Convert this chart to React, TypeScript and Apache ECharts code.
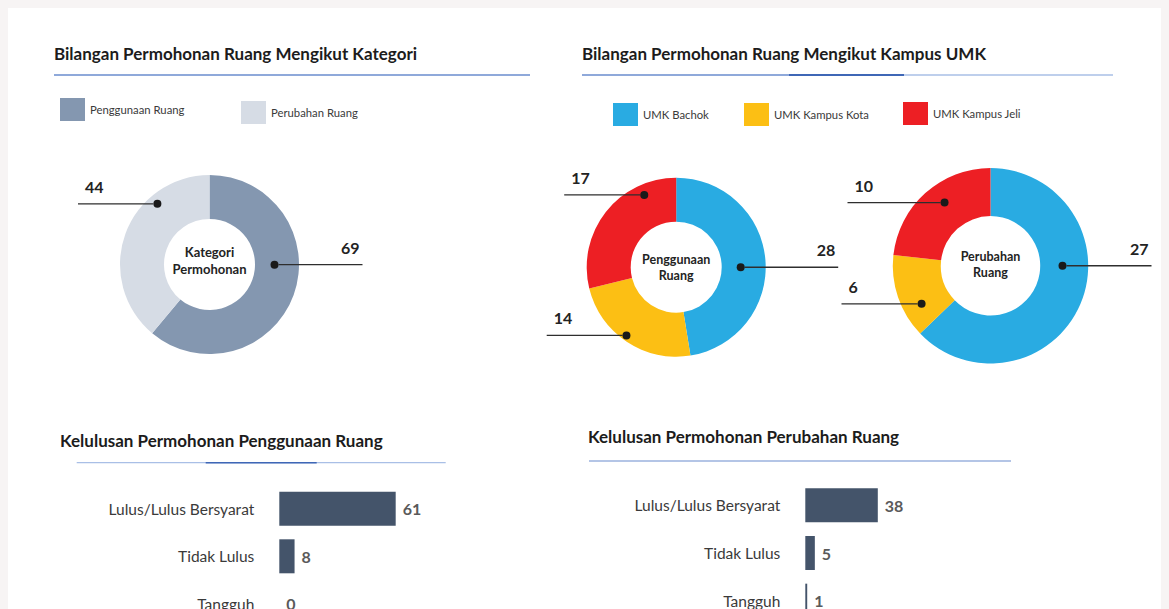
import React, { useEffect, useRef } from 'react';
import * as echarts from 'echarts';

// ---------- data ----------
const kategoriNames = ['Penggunaan Ruang', 'Perubahan Ruang'];
const kategoriValues = [69, 44];
const kampusNames = ['UMK Bachok', 'UMK Kampus Kota', 'UMK Kampus Jeli'];
const penggunaanKampusValues = [28, 14, 17];
const perubahanKampusValues = [27, 6, 10];
const statusCategories = ['Lulus/Lulus Bersyarat', 'Tidak Lulus', 'Tangguh'];
const penggunaanStatusValues = [61, 8, 0];
const perubahanStatusValues = [38, 5, 1];

const titles = [
  'Bilangan Permohonan Ruang Mengikut Kategori',
  'Bilangan Permohonan Ruang Mengikut Kampus UMK',
  'Kelulusan Permohonan Penggunaan Ruang',
  'Kelulusan Permohonan Perubahan Ruang',
];
const centerTexts = ['Kategori\nPermohonan', 'Penggunaan\nRuang', 'Perubahan\nRuang'];

// ---------- style / layout ----------
const FONT = 'Lato, "Open Sans", sans-serif';
const kategoriColors = ['#8497b0', '#d6dce5'];
const kampusColors = ['#29abe2', '#fcbf14', '#ed1f24'];
const barColor = '#44546a';
const inkColor = '#232323';

type Callout = { f: number; r: number; end: number };
type PieLayout = { cx: number; cy: number; r0: number; r1: number; callouts: Callout[] };

const kategoriLayout: PieLayout = {
  cx: 201.5, cy: 256.5, r0: 45.5, r1: 89.5,
  callouts: [{ f: 0.41, r: 65, end: 153 }, { f: 0.71, r: 80, end: -131.5 }],
};
const penggunaanLayout: PieLayout = {
  cx: 668.2, cy: 259.2, r0: 45.5, r1: 89.5,
  callouts: [{ f: 0.527, r: 64.5, end: 162 }, { f: 0.53, r: 84.4, end: -129.5 }, { f: 0.77, r: 79, end: -112 }],
};
const perubahanLayout: PieLayout = {
  cx: 982.5, cy: 257.8, r0: 49.7, r1: 97.7,
  callouts: [{ f: 0.398, r: 72, end: 161 }, { f: 0.3, r: 78.7, end: -149 }, { f: 0.57, r: 78.2, end: -143 }],
};

function anchorOf(values: number[], layout: PieLayout, i: number): [number, number] {
  const total = values.reduce((a, b) => a + b, 0);
  let before = 0;
  for (let k = 0; k < i; k++) before += values[k];
  const c = layout.callouts[i];
  const theta = ((before + c.f * values[i]) / total) * Math.PI * 2;
  return [layout.cx + c.r * Math.sin(theta), layout.cy - c.r * Math.cos(theta)];
}

const DOT = 8;

function pieSeries(names: string[], values: number[], colors: string[], layout: PieLayout) {
  const common = {
    type: 'pie',
    center: [layout.cx, layout.cy],
    radius: [layout.r0, layout.r1],
    startAngle: 90,
    clockwise: true,
    avoidLabelOverlap: false,
    silent: true,
  };
  const calloutData = names.map((n, i) => {
    const [ax] = anchorOf(values, layout, i);
    const c = layout.callouts[i];
    const ex = layout.cx + c.end;
    const right = c.end > 0;
    const len = Math.max(1, Math.abs(ex - ax) - DOT / 2);
    return {
      name: n,
      value: values[i],
      itemStyle: { color: 'rgba(0,0,0,0)' },
      label: {
        formatter: right ? '{d|}{l|}' : '{l|}{d|}',
        rich: {
          d: { width: DOT, height: DOT, borderRadius: DOT / 2, backgroundColor: '#1a1a1a', verticalAlign: 'middle' },
          l: { width: len, height: 1.3, backgroundColor: '#2e2e2e', verticalAlign: 'middle' },
        },
      },
    };
  });
  return [
    {
      ...common,
      z: 2,
      data: names.map((n, i) => ({ name: n, value: values[i], itemStyle: { color: colors[i] } })),
      label: {
        show: true,
        position: 'outside',
        formatter: '{c}',
        fontFamily: FONT,
        fontSize: 16,
        fontWeight: 'bold',
        color: inkColor,
      },
      labelLine: { show: false },
      labelLayout: (p: any) => {
        const i = p.dataIndex;
        const [, ay] = anchorOf(values, layout, i);
        const c = layout.callouts[i];
        const ex = layout.cx + c.end;
        const right = c.end > 0;
        return {
          x: right ? ex - 3 : ex + 7,
          y: ay - 9.5,
          align: right ? 'right' : 'left',
          verticalAlign: 'bottom',
        };
      },
    },
    {
      ...common,
      z: 3,
      data: calloutData,
      label: { show: true, position: 'inside' },
      labelLine: { show: false },
      labelLayout: (p: any) => {
        const i = p.dataIndex;
        const [ax, ay] = anchorOf(values, layout, i);
        const right = layout.callouts[i].end > 0;
        return {
          x: right ? ax - DOT / 2 : ax + DOT / 2,
          y: ay,
          align: right ? 'left' : 'right',
          verticalAlign: 'middle',
        };
      },
    },
  ];
}

function barSeries(values: number[], idx: number) {
  return {
    type: 'bar',
    xAxisIndex: idx,
    yAxisIndex: idx,
    data: values,
    barWidth: 34,
    silent: true,
    itemStyle: { color: barColor },
    label: {
      show: true,
      position: 'right',
      distance: 7,
      fontFamily: FONT,
      fontSize: 16,
      fontWeight: 'bold',
      color: '#5a5a5a',
    },
  };
}

function categoryAxis(idx: number) {
  return {
    gridIndex: idx,
    type: 'category',
    data: statusCategories,
    inverse: true,
    axisLine: { show: false },
    axisTick: { show: false },
    splitLine: { show: false },
    axisLabel: { margin: 25, fontFamily: FONT, fontSize: 15.5, color: '#3a3a3a' },
  };
}

function valueAxis(idx: number) {
  return { gridIndex: idx, type: 'value', min: 0, max: 100, show: false, splitLine: { show: false } };
}

function legend(name: string, left: number, top: number) {
  return {
    data: [name],
    left,
    top,
    padding: 0,
    icon: 'rect',
    itemWidth: 25,
    itemHeight: 23,
    selectedMode: false,
    textStyle: { fontFamily: FONT, fontSize: 11.3, color: '#3a3a3a' },
  };
}

function titleText(text: string, x: number, y: number) {
  return {
    type: 'text',
    x,
    y,
    silent: true,
    style: { text, font: `bold 17px ${FONT}`, fill: '#1c1c1c', verticalAlign: 'middle' },
  };
}

function hline(x1: number, x2: number, y: number, color: string, width: number) {
  return { type: 'line', silent: true, shape: { x1, y1: y, x2, y2: y }, style: { stroke: color, lineWidth: width } };
}

function centerText(text: string, layout: PieLayout, size: number, lh: number, dy: number) {
  return {
    type: 'text',
    x: layout.cx,
    y: layout.cy + dy,
    silent: true,
    z: 10,
    style: {
      text,
      font: `bold ${size}px ${FONT}`,
      fill: inkColor,
      align: 'center',
      verticalAlign: 'middle',
      lineHeight: lh,
    },
  };
}

export default function App() {
  const ref = useRef<HTMLDivElement>(null);

  useEffect(() => {
    document.body.style.background = '#f7f4f4';
    if (!ref.current) return;
    const chart = echarts.init(ref.current, null, { renderer: 'svg' });
    const lineBase = '#6a8cce';
    const lineDark = '#3f67b6';
    const lineLight = '#a9bfe6';
    chart.setOption({
      animation: false,
      backgroundColor: '#ffffff',
      legend: [
        legend(kategoriNames[0], 52, 90),
        legend(kategoriNames[1], 233, 93),
        legend(kampusNames[0], 605, 95),
        legend(kampusNames[1], 736, 95),
        legend(kampusNames[2], 895, 94),
      ],
      grid: [
        { left: 271.3, top: 476.9, width: 190.8, height: 142.8, outerBoundsMode: 'none', containLabel: false },
        { left: 797.3, top: 473.5, width: 190.8, height: 143, outerBoundsMode: 'none', containLabel: false },
      ],
      xAxis: [valueAxis(0), valueAxis(1)],
      yAxis: [categoryAxis(0), categoryAxis(1)],
      series: [
        ...pieSeries(kategoriNames, kategoriValues, kategoriColors, kategoriLayout),
        ...pieSeries(kampusNames, penggunaanKampusValues, kampusColors, penggunaanLayout),
        ...pieSeries(kampusNames, perubahanKampusValues, kampusColors, perubahanLayout),
        barSeries(penggunaanStatusValues, 0),
        barSeries(perubahanStatusValues, 1),
      ],
      graphic: [
        titleText(titles[0], 46, 45),
        titleText(titles[1], 574, 45),
        titleText(titles[2], 52, 432),
        titleText(titles[3], 580, 428.7),
        hline(46, 522, 67, lineBase, 1.3),
        hline(574, 781, 67, lineBase, 1.3),
        hline(781, 896, 67, lineDark, 1.8),
        hline(896, 1105, 67, lineLight, 1.5),
        hline(68.7, 437.7, 454.7, lineLight, 1.3),
        hline(197.7, 308.7, 454.7, lineDark, 1.6),
        hline(581, 1003, 453, lineBase, 1.2),
        centerText(centerTexts[0], kategoriLayout, 13, 17, -4),
        centerText(centerTexts[1], penggunaanLayout, 12.5, 16, 0),
        centerText(centerTexts[2], perubahanLayout, 12.5, 16, -1),
      ],
    });
    return () => chart.dispose();
  }, []);

  return <div ref={ref} style={{ width: 1161, height: 601, background: '#ffffff' }} />;
}
